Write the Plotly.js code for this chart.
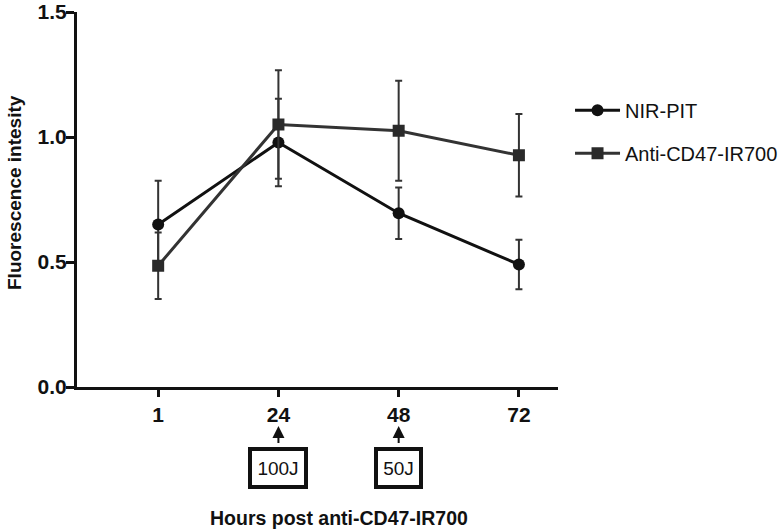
<!DOCTYPE html>
<html>
<head>
<meta charset="utf-8">
<script src="https://cdn.plot.ly/plotly-3.0.1.min.js"></script>
<style>
  body { margin: 0; background: #fff; }
  #chart { width: 780px; height: 532px; }
</style>
</head>
<body>
<div id="chart"></div>
<script>
var hours = ["1", "24", "48", "72"];
var nirPit = [0.65, 0.978, 0.695, 0.49];
var nirPitSd = [0.175, 0.175, 0.103, 0.099];
var antiCd47 = [0.485, 1.05, 1.025, 0.927];
var antiCd47Sd = [0.133, 0.217, 0.2, 0.165];

var fontFam = "Liberation Sans, Arial, sans-serif";

var traceNir = {
    x: hours,
    y: nirPit,
    type: "scatter",
    mode: "lines+markers",
    name: "NIR-PIT",
    legendgroup: "a",
    line: {color: "#111111", width: 3},
    marker: {symbol: "circle", size: 12, color: "#111111"},
    error_y: {type: "data", array: nirPitSd, visible: true, color: "#333333", thickness: 2, width: 3.5}
};

var traceAnti = {
    x: hours,
    y: antiCd47,
    type: "scatter",
    mode: "lines+markers",
    name: "Anti-CD47-IR700",
    legendgroup: "b",
    line: {color: "#333333", width: 3},
    marker: {symbol: "square", size: 12, color: "#2a2a2a"},
    error_y: {type: "data", array: antiCd47Sd, visible: true, color: "#333333", thickness: 2, width: 3.5}
};

var tickFont = {size: 21, family: fontFam, weight: "bold", color: "#111111"};

var layout = {
    width: 780,
    height: 532,
    margin: {l: 77, r: 222, t: 12, b: 145, autoexpand: false},
    paper_bgcolor: "#ffffff",
    plot_bgcolor: "#ffffff",
    font: {family: fontFam, color: "#111111"},
    showlegend: true,
    legend: {
        x: 1.025, y: 0.79, xanchor: "left", yanchor: "top",
        font: {size: 20, family: fontFam, color: "#111111"},
        traceorder: "grouped",
        tracegroupgap: 14,
        itemwidth: 45
    },
    xaxis: {
        type: "category",
        range: [-0.675, 3.325],
        showgrid: false,
        zeroline: false,
        showline: true,
        linecolor: "#111111",
        linewidth: 3,
        ticks: "outside",
        ticklen: 7,
        tickwidth: 3,
        tickcolor: "#111111",
        tickfont: tickFont
    },
    yaxis: {
        range: [0, 1.5],
        tickvals: [0, 0.5, 1.0, 1.5],
        ticktext: ["0.0", "0.5", "1.0", "1.5"],
        showgrid: false,
        zeroline: false,
        showline: true,
        linecolor: "#111111",
        linewidth: 3,
        ticks: "outside",
        ticklen: 8,
        tickwidth: 3,
        tickcolor: "#111111",
        ticklabelstandoff: -5,
        tickfont: tickFont
    },
    annotations: [
        // y axis title
        {
            xref: "paper", yref: "paper", x: -0.131, y: 0.52,
            xanchor: "center", yanchor: "middle",
            text: "Fluorescence intesity", textangle: -90, showarrow: false,
            font: {size: 19, family: fontFam, weight: "bold", color: "#111111"}
        },
        // x axis title
        {
            xref: "x", yref: "paper", x: 1.5, y: -0.349,
            xanchor: "center", yanchor: "middle",
            text: "Hours post anti-CD47-IR700", showarrow: false,
            font: {size: 19.5, family: fontFam, weight: "bold", color: "#111111"}
        },
        // light dose boxes, arrow pointing at the time point
        {
            xref: "x", yref: "paper", x: 1, y: -0.104, ax: 0, ay: 42,
            text: "100J", showarrow: true,
            arrowhead: 2, arrowsize: 1.2, arrowwidth: 2, arrowcolor: "#111111", startstandoff: 6,
            width: 46, height: 28, borderpad: 3, borderwidth: 4,
            bordercolor: "#111111", bgcolor: "#ffffff",
            font: {size: 19, family: fontFam, color: "#111111"}
        },
        {
            xref: "x", yref: "paper", x: 2, y: -0.104, ax: 0, ay: 42,
            text: "50J", showarrow: true,
            arrowhead: 2, arrowsize: 1.2, arrowwidth: 2, arrowcolor: "#111111", startstandoff: 6,
            width: 35, height: 28, borderpad: 3, borderwidth: 4,
            bordercolor: "#111111", bgcolor: "#ffffff",
            font: {size: 19, family: fontFam, color: "#111111"}
        }
    ]
};

Plotly.newPlot("chart", [traceNir, traceAnti], layout, {displayModeBar: false, staticPlot: true});
</script>
</body>
</html>
